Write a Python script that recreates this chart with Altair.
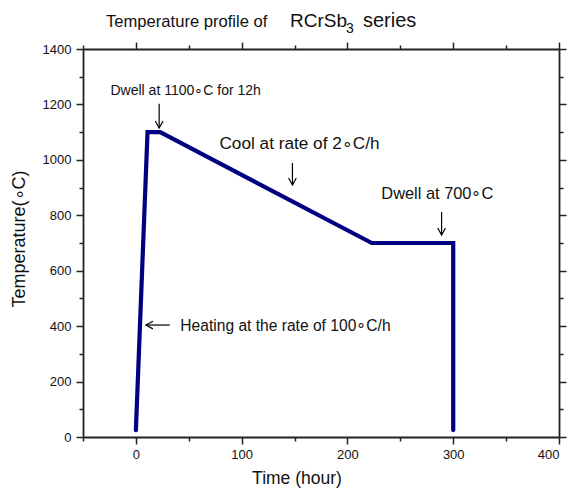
import altair as alt
import pandas as pd

# profile data
time_h = [0, 11, 23, 223, 300, 300]
temp_c = [25, 1100, 1100, 700, 700, 25]

# vertical arrows (x, y start, y tip)
varrow_x = [22, 148, 289]
varrow_y0 = [1202, 989, 812]
varrow_y1 = [1115, 909, 729]

# horizontal arrow
harrow_x0 = [32]
harrow_x1 = [9.5]
harrow_y = [404]

# annotations
ann_text = ["Dwell at 1100\u2218C for 12h", "Cool at rate of 2\u2218C/h",
            "Dwell at 700\u2218C", "Heating at the rate of 100\u2218C/h"]
ann_x = [-24, 79, 232, 42]
ann_y = [1234, 1040, 860, 382]
ann_size = [14, 17.2, 16.4, 15.6]

x_ticks = [-50, 0, 50, 100, 150, 200, 250, 300, 350, 400]
y_ticks = list(range(0, 1401, 100))

FONT = "Liberation Sans"
AX = "#222222"

df = pd.DataFrame({"t": time_h, "T": temp_c, "o": list(range(len(time_h)))})
va = pd.DataFrame({"x": varrow_x, "y0": varrow_y0, "y1": varrow_y1})
ha = pd.DataFrame({"x0": harrow_x0, "x1": harrow_x1, "y": harrow_y})
an = pd.DataFrame({"text": ann_text, "x": ann_x, "y": ann_y, "s": ann_size})
one = alt.Data(values=[{"k": 1}])

xs = alt.Scale(domain=[-50, 400], nice=False, zero=False)
ys = alt.Scale(domain=[0, 1400], nice=False, zero=False)

tick_x = {"condition": {"test": "datum.value % 100 === 0", "value": 7}, "value": 4}
tick_y = {"condition": {"test": "datum.value % 200 === 0", "value": 7}, "value": 4}

common = dict(domainColor=AX, domainWidth=1.8, tickColor=AX, tickWidth=1.5,
              grid=False, labelFont=FONT, labelFontSize=13, labelColor="#111",
              title=None, format="d")

xb = alt.Axis(orient="bottom", values=x_ticks, tickSize=tick_x,
              labelExpr="datum.value % 100 === 0 ? datum.label : ''",
              labelPadding=4, **common)
yl = alt.Axis(orient="left", values=y_ticks, tickSize=tick_y,
              labelExpr="datum.value % 200 === 0 ? datum.label : ''",
              labelPadding=5, **common)
xt = alt.Axis(orient="top", values=x_ticks, tickSize=tick_x, labels=False, **common)
yr = alt.Axis(orient="right", values=y_ticks, tickSize=tick_y, labels=False, **common)

line = alt.Chart(df).mark_line(color="#000080", strokeWidth=4.2, strokeCap="round",
                               strokeJoin="miter").encode(
    x=alt.X("t:Q", scale=xs, axis=xb),
    y=alt.Y("T:Q", scale=ys, axis=yl),
    order="o:Q",
)

frame = alt.Chart(df).mark_point(opacity=0).encode(
    x=alt.X("t:Q", scale=xs, axis=xt),
    y=alt.Y("T:Q", scale=ys, axis=yr),
)

vshaft = alt.Chart(va).mark_rule(color="black", strokeWidth=1.2).encode(
    x=alt.X("x:Q", axis=None), y=alt.Y("y0:Q", axis=None), y2="y1:Q")
vhead = alt.Chart(va).mark_point(
    shape="M-0.55,-1L0,0L0.55,-1", size=196, filled=False, color="black",
    strokeWidth=1.2, opacity=1).encode(
    x=alt.X("x:Q", axis=None), y=alt.Y("y1:Q", axis=None))

hshaft = alt.Chart(ha).mark_rule(color="black", strokeWidth=1.2).encode(
    x=alt.X("x0:Q", axis=None), x2="x1:Q", y=alt.Y("y:Q", axis=None))
hhead = alt.Chart(ha).mark_point(
    shape="M1,-0.55L0,0L1,0.55", size=196, filled=False, color="black",
    strokeWidth=1.2, opacity=1).encode(
    x=alt.X("x1:Q", axis=None), y=alt.Y("y:Q", axis=None))

ann = alt.Chart(an).mark_text(font=FONT, align="left", baseline="alphabetic",
                              color="#111").encode(
    x=alt.X("x:Q", axis=None), y=alt.Y("y:Q", axis=None), text="text:N",
    size=alt.Size("s:Q", scale=None))


def label(txt, size, x, y, **kw):
    return alt.Chart(one).mark_text(text=txt, font=FONT, fontSize=size,
                                    baseline="alphabetic", color="#111", **kw).encode(
        x=alt.value(x), y=alt.value(y))


t1 = label("Temperature profile of", 16.6, 23, -22, align="left")
t2 = label("RCrSb", 19, 207, -22, align="left")
t3 = label("3", 14, 263, -16, align="left")
t4 = label("series", 20, 280, -22, align="left")
xtitle = label("Time (hour)", 17.5, 214, 435, align="center")
ytitle = label("Temperature(\u2218C)", 18, -58, 190, align="center", angle=270)

chart = alt.layer(
    line, frame, vshaft, vhead, hshaft, hhead, ann, t1, t2, t3, t4, xtitle, ytitle
).resolve_axis(x="independent", y="independent").properties(
    width=476, height=388,
    autosize=alt.AutoSizeParams(type="none"),
    padding={"left": 83, "top": 49, "right": 11, "bottom": 52},
).configure_view(stroke=None).configure(background="white")

chart.save("out.html", embed_options={"renderer": "svg", "actions": False})
